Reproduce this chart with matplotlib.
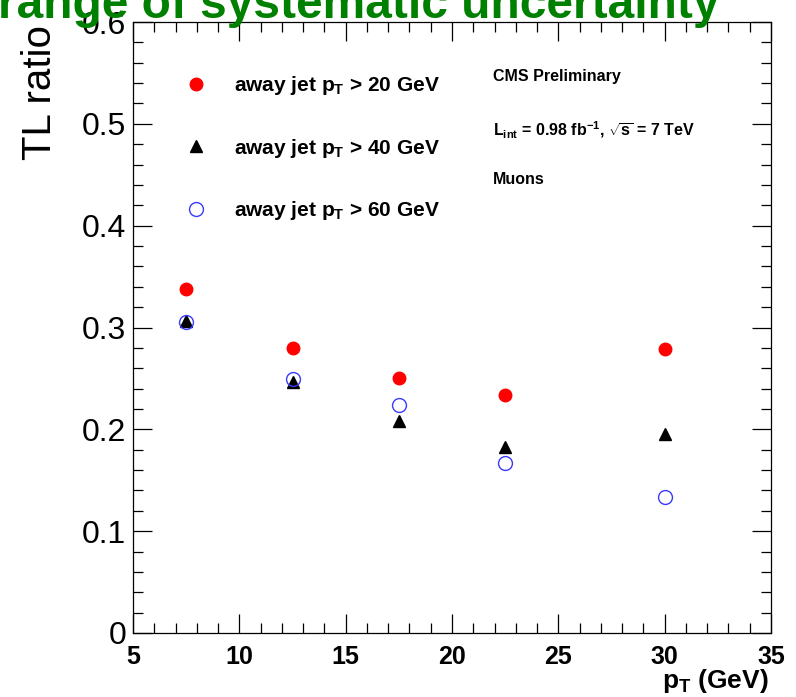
import matplotlib
matplotlib.use("Agg")
import matplotlib.pyplot as plt
from matplotlib.ticker import MultipleLocator
from matplotlib.lines import Line2D

plt.rcParams['font.family'] = ['Liberation Sans', 'DejaVu Sans']
plt.rcParams['mathtext.fontset'] = 'custom'
plt.rcParams['mathtext.rm'] = 'Liberation Sans'
plt.rcParams['mathtext.bf'] = 'Liberation Sans:bold'
plt.rcParams['mathtext.it'] = 'Liberation Sans:italic'

# tight-to-loose ratio vs muon pT, for three away-jet thresholds
pt_bins = [7.5, 12.5, 17.5, 22.5, 30.0]
tl_jet20 = [0.338, 0.280, 0.250, 0.234, 0.279]
tl_jet40 = [0.306, 0.246, 0.208, 0.183, 0.195]
tl_jet60 = [0.305, 0.249, 0.224, 0.167, 0.134]
labels = [r"away jet p$_\mathbf{T}$ > 20 GeV",
          r"away jet p$_\mathbf{T}$ > 40 GeV",
          r"away jet p$_\mathbf{T}$ > 60 GeV"]
yticks = [0, 0.1, 0.2, 0.3, 0.4, 0.5, 0.6]
ytick_labels = ['0', '0.1', '0.2', '0.3', '0.4', '0.5', '0.6']

W, H = 796, 697
fig = plt.figure(figsize=(W / 100, H / 100), dpi=100)
ax = fig.add_axes([133 / W, 1 - 633 / H, (771 - 133) / W, (633 - 22) / H])

blue = '#3a3aff'
ax.plot(pt_bins, tl_jet20, 'o', color='red', ms=9, mec='red', ls='none')
ax.plot(pt_bins, tl_jet40, '^', color='black', ms=9, ls='none')
ax.plot(pt_bins, tl_jet60, 'o', mfc='none', mec=blue, mew=1.0, ms=10, ls='none')

ax.set_xlim(5, 35)
ax.set_ylim(0, 0.6)
ax.xaxis.set_major_locator(MultipleLocator(5))
ax.xaxis.set_minor_locator(MultipleLocator(1))
ax.yaxis.set_minor_locator(MultipleLocator(0.02))
ax.set_yticks(yticks)
ax.set_yticklabels(ytick_labels)
ax.tick_params(which='both', direction='in', top=True, right=True, width=0.9)
ax.tick_params(which='major', length=14)
ax.tick_params(which='minor', length=7)
ax.tick_params(axis='x', which='major', pad=9, labelsize=18)
ax.tick_params(axis='y', which='major', pad=5, labelsize=23)
for lab in ax.get_xticklabels():
    lab.set_fontweight('bold')
for sp in ax.spines.values():
    sp.set_linewidth(0.9)

# legend
handles = [
    Line2D([], [], marker='o', color='red', ls='none', ms=9),
    Line2D([], [], marker='^', color='black', ls='none', ms=9),
    Line2D([], [], marker='o', mfc='none', mec=blue, mew=1.0, ls='none', ms=10),
]
fig.legend(handles, labels, loc='upper left', bbox_to_anchor=(186 / W, 1 - 74 / H),
           frameon=False, prop={'weight': 'bold', 'size': 15},
           handlelength=1.0, handletextpad=1.3, labelspacing=1.9,
           borderpad=0, borderaxespad=0)

# annotations
fig.text(493 / W, 1 - 77 / H, "CMS Preliminary", fontsize=11.5, fontweight='bold', va='center')
fig.text(493 / W, 1 - 130 / H,
         r"L$_\mathbf{int}$ = 0.98 fb$^\mathbf{-1}$, $\mathbf{\sqrt{s}}$ = 7 TeV",
         fontsize=11.5, fontweight='bold', va='center')
fig.text(493 / W, 1 - 180 / H, "Muons", fontsize=11.5, fontweight='bold', va='center')

fig.text(40 / W, 1 - 25 / H, "TL ratio", fontsize=29, rotation=90, ha='center', va='top')
fig.text(769 / W, 1 - 688 / H, r"p$_\mathbf{T}$ (GeV)", fontsize=19,
         fontweight='bold', ha='right', va='baseline')

fig.text(-2 / W, 1 - 18 / H, "range of systematic uncertainty", fontsize=34.5,
         fontweight='bold', color='#008000', ha='left', va='baseline')

fig.savefig("out.png", dpi=100)
